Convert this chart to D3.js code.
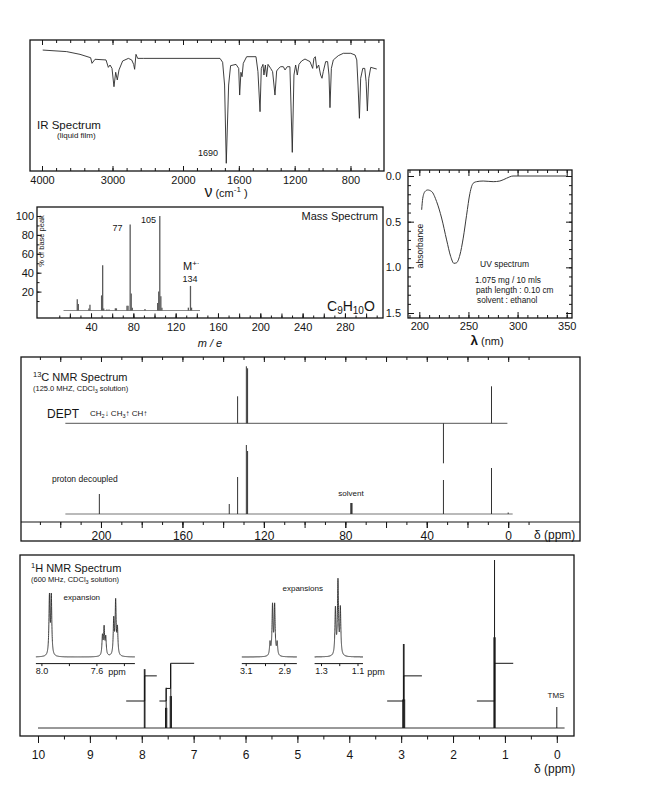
<!DOCTYPE html>
<html><head><meta charset="utf-8">
<script src="https://cdn.jsdelivr.net/npm/d3@7"></script>
<style>body{margin:0;background:#fff}</style>
</head><body>
<script>
// ---------------- DATA ----------------
// IR spectrum (wavenumber cm-1, % transmittance)
const irWavenumber = [3990,3650,3461,3310,3291,3248,3092,3059,3035,3007,2979,2955,2932,2908,2856,2775,2728,2700,2686,2667,2643,2563,1735,1716,1702,1690,1673,1659,1620,1601,1594,1585,1577,1568,1544,1477,1463,1448,1439,1427,1420,1410,1401,1391,1372,1358,1341,1329,1315,1300,1281,1269,1253,1234,1217,1205,1193,1181,1169,1150,1126,1090,1071,1062,1052,1042,1028,1014,1004,995,978,964,954,947,937,923,887,851,798,767,755,746,736,727,712,698,688,679,669,655,612];
const irTransmittance = [93.8,92.6,90.5,87.9,83.6,86.7,86.2,80.5,82.3,79.7,65.6,76.7,70.8,78.5,85.4,87.4,86.2,82.8,79.0,90.5,87.4,87.4,87.4,84.4,66.9,6.7,66.9,81.8,82.8,79.7,59.2,76.7,73.3,83.6,88.7,88.7,77.2,46.4,79.7,82.8,74.6,82.3,73.3,82.8,79.7,77.2,59.2,77.7,79.7,81.0,81.0,78.5,81.0,81.0,15.1,74.6,82.3,74.6,82.8,85.4,86.9,84.9,79.7,87.4,88.7,79.7,82.3,74.6,72.1,77.2,84.9,84.9,74.6,49.5,79.7,86.2,89.5,91.3,91.3,90.0,86.2,66.9,41.3,72.1,79.7,79.7,69.5,46.9,72.1,80.5,79.2];
const irTickLabels = [4000,3000,2000,1600,1200,800];

// Mass spectrum (m/e, % of base peak)
const msMass = [27,28,38,39,50,51,52,55,57,63,64,74,75,77,78,79,91,103,104,105,106,107,132,134,135];
const msIntensity = [12,7,2,6,16,48,2,1,1,2.3,2.3,5,5,91,18,3,1.5,8,20,100,15,3,3,26,3];
const msXTickLabels = [40,80,120,160,200,240,280];
const msYTickLabels = [20,40,60,80,100];

// UV spectrum (nm, absorbance)
const uvWavelength = [202.4,203.5,205.8,208.5,212.6,217.6,222.7,227.8,231.9,235.2,237.9,241.3,244.7,248.1,251.5,254.8,258.3,265,275.2,282,288.7,295.4,349.6];
const uvAbsorbance = [0.37,0.245,0.17,0.153,0.17,0.28,0.46,0.70,0.88,0.956,0.95,0.865,0.68,0.43,0.19,0.08,0.062,0.055,0.062,0.055,0.025,0.0,0.0];
const uvXTickLabels = [200,250,300,350];
const uvYTickLabels = [0.0,0.5,1.0,1.5];

// 13C NMR
const deptShift = [132.9,128.6,128.0,31.8,8.2];
const deptIntensity = [27,57,55,-40,37];
const c13Shift = [200.8,137.0,132.9,128.6,128.0,77.3,77.0,76.7,31.8,8.2,0.0];
const c13Intensity = [20,10,37,69,63,11,11,11,34,46,1.5];
const c13TickLabels = [200,160,120,80,40,0];

// 1H NMR (line positions ppm, relative heights)
const h1Shift = [7.951,7.938,7.542,7.530,7.518,7.452,7.440,7.428,2.969,2.957,2.944,2.932,1.212,1.200,1.188,0.0];
const h1Intensity = [35,35,12,24,12,19,38,19,17,50,50,17,54,100,54,12.5];
const h1TickLabels = [10,9,8,7,6,5,4,3,2,1,0];
// integral traces [ppm, number of H]
const h1Integral1 = [[8.30,0],[7.945,0],[7.945,2],[7.71,2]];
const h1Integral2 = [[7.66,0],[7.53,0],[7.53,1],[7.445,1],[7.445,3],[6.99,3]];
const h1Integral3 = [[3.27,0],[2.95,0],[2.95,2],[2.60,2]];
const h1Integral4 = [[1.54,0],[1.20,0],[1.20,3],[0.84,3]];
// expansions
const exp1Shift = [7.9415,7.928,7.556,7.544,7.532,7.474,7.460,7.447];
const exp1Height = [73,73,24,34,22,44,66,32];
const exp2Shift = [2.974,2.961,2.950,2.937];
const exp2Height = [16,62,62,16];
const exp3Shift = [1.221,1.207,1.194];
const exp3Height = [58,92,58];

// ---------------- DRAWING ----------------
const F = '"Liberation Sans", Arial, Helvetica, sans-serif';
const ink = "#151515";
const svg = d3.select("body").append("svg").attr("width",651).attr("height",793);
svg.append("rect").attr("width",651).attr("height",793).attr("fill","#fff");

function txt(x,y,s,size,anchor){
  return svg.append("text").attr("x",x).attr("y",y).attr("font-size",size)
    .attr("font-family",F).attr("fill",ink).attr("text-anchor",anchor||"start").text(s);
}
function frame(x0,y0,x1,y1){
  svg.append("rect").attr("x",x0).attr("y",y0).attr("width",x1-x0).attr("height",y1-y0)
    .attr("fill","none").attr("stroke",ink).attr("stroke-width",1.3);
}
function tickAxis(axisGen, scale, values, size, tx, ty, fmt, pad, fs){
  const g = svg.append("g").attr("transform",`translate(${tx},${ty})`);
  g.call(axisGen(scale).tickValues(values).tickSize(size).tickPadding(pad==null?3:pad)
    .tickFormat(fmt||(()=> "")));
  g.select(".domain").remove();
  g.attr("font-family",F).attr("font-size",fs||11);
  g.selectAll(".tick line").attr("stroke",ink).attr("stroke-width",1);
  g.selectAll(".tick text").attr("fill",ink);
  return g;
}
function sticks(data, xs, ys, color, w){
  svg.append("g").selectAll("line").data(data).join("line")
    .attr("x1",d=>xs(d[0])).attr("x2",d=>xs(d[0]))
    .attr("y1",ys(0)).attr("y2",d=>ys(d[1]))
    .attr("stroke",color).attr("stroke-width",w);
}
function hline(xs, a, b, y, color, w){
  svg.append("line").attr("x1",xs(a)).attr("x2",xs(b)).attr("y1",y).attr("y2",y)
    .attr("stroke",color).attr("stroke-width",w);
}

// ===== IR =====
const irX = d3.scaleLinear().domain([4000,2000,600]).range([42,183,378.4]);
const irY = d3.scaleLinear().domain([0,100]).range([172,42]);
frame(30,40,384,171);
const irMinor = d3.range(4000,2000,-200).concat(d3.range(2000,599,-100));
tickAxis(d3.axisBottom, irX, irMinor, -3, 0, 171);
tickAxis(d3.axisTop, irX, irMinor, -3, 0, 40);
tickAxis(d3.axisBottom, irX, irTickLabels, -5, 0, 171, d=>d, 5, 11);
tickAxis(d3.axisTop, irX, irTickLabels, -5, 0, 40);
svg.append("path").datum(d3.zip(irWavenumber, irTransmittance))
  .attr("d", d3.line().x(d=>irX(d[0])).y(d=>irY(d[1])))
  .attr("fill","none").attr("stroke","#2a2a2a").attr("stroke-width",0.9).attr("stroke-linejoin","round");
txt(37,129,"IR Spectrum",11.5);
txt(57,138,"(liquid film)",8);
txt(198,156,"1690",9);
{
  const t = svg.append("text").attr("x",226).attr("y",197).attr("font-family",F).attr("fill",ink).attr("text-anchor","middle");
  t.append("tspan").attr("font-size",16).text("ν");
  t.append("tspan").attr("font-size",11).text("  (cm");
  t.append("tspan").attr("font-size",8).attr("dy",-5).text("-1");
  t.append("tspan").attr("font-size",11).attr("dy",5).text(" )");
}

// ===== MASS =====
const msX = d3.scaleLinear().domain([0,300]).range([48.7,366.1]);
const msY = d3.scaleLinear().domain([0,100]).range([310.5,216]);
frame(37,207,383,318);
tickAxis(d3.axisBottom, msX, d3.range(10,320,10), -2.5, 0, 318);
tickAxis(d3.axisBottom, msX, d3.range(20,320,20), -4.5, 0, 318);
tickAxis(d3.axisBottom, msX, msXTickLabels, -4.5, 0, 318, d=>d, 5, 11);
tickAxis(d3.axisLeft, msY, d3.range(10,101,10), -2.5, 37, 0);
tickAxis(d3.axisLeft, msY, msYTickLabels, -4.5, 37, 0, d=>d, 3, 11);
hline(msX, 14, 143, msY(0), "#8a8a8a", 1);
sticks(d3.zip(msMass, msIntensity), msX, msY, "#5a5a5a", 1.3);
txt(378,220,"Mass Spectrum",11,"end");
txt(117.5,231,"77",9,"middle");
txt(148.5,223,"105",9,"middle");
{
  const t = svg.append("text").attr("x",183).attr("y",270).attr("font-family",F).attr("fill",ink);
  t.append("tspan").attr("font-size",11).text("M");
  t.append("tspan").attr("font-size",8).attr("dy",-4).text("+·");
}
txt(190,282,"134",9,"middle");
{
  const t = svg.append("text").attr("x",327).attr("y",311).attr("font-family",F).attr("fill",ink).attr("font-size",14);
  t.append("tspan").text("C");
  t.append("tspan").attr("font-size",10).attr("dy",3).text("9");
  t.append("tspan").attr("dy",-3).text("H");
  t.append("tspan").attr("font-size",10).attr("dy",3).text("10");
  t.append("tspan").attr("dy",-3).text("O");
}
txt(0,0,"% of base peak",7.5,"middle").attr("transform","translate(44,241) rotate(-90)").attr("x",null).attr("y",null);
txt(210,347,"m / e",11,"middle").attr("font-style","italic");

// ===== UV =====
const uvX = d3.scaleLinear().domain([200,350]).range([419.3,566.7]);
const uvY = d3.scaleLinear().domain([0,1.5]).range([176,313]);
frame(408,170,572,318);
const uvXMinor = d3.range(190,351,10);
const uvYMinor = d3.range(0,16,1).map(v=>v/10);
tickAxis(d3.axisBottom, uvX, uvXMinor, -3, 0, 318);
tickAxis(d3.axisTop, uvX, uvXMinor, -3, 0, 170);
tickAxis(d3.axisBottom, uvX, uvXTickLabels, -6, 0, 318, d=>d, 4, 11);
tickAxis(d3.axisTop, uvX, uvXTickLabels, -6, 0, 170);
tickAxis(d3.axisLeft, uvY, uvYMinor, -3, 408, 0);
tickAxis(d3.axisRight, uvY, uvYMinor, -3, 572, 0);
tickAxis(d3.axisLeft, uvY, uvYTickLabels, -6, 408, 0, d3.format(".1f"), 7, 11);
tickAxis(d3.axisRight, uvY, uvYTickLabels, -6, 572, 0);
svg.append("path").datum(d3.zip(uvWavelength, uvAbsorbance))
  .attr("d", d3.line().curve(d3.curveMonotoneX).x(d=>uvX(d[0])).y(d=>uvY(d[1])))
  .attr("fill","none").attr("stroke","#3a3a3a").attr("stroke-width",1);
txt(0,0,"absorbance",8.5,"middle").attr("transform","translate(423,246) rotate(-90)").attr("x",null).attr("y",null);
txt(480,267,"UV spectrum",8.5);
txt(475,283,"1.075 mg / 10 mls",8.3);
txt(476,293,"path length : 0.10 cm",8.3);
txt(477,303,"solvent : ethanol",8.3);
{
  const t = svg.append("text").attr("x",487).attr("y",345).attr("font-family",F).attr("fill",ink).attr("text-anchor","middle");
  t.append("tspan").attr("font-size",13.5).attr("font-weight","bold").text("λ");
  t.append("tspan").attr("font-size",11).text(" (nm)");
}

// ===== 13C NMR =====
const cX = d3.scaleLinear().domain([0,230]).range([508.2,39.9]);
const deptY = d3.scaleLinear().domain([0,100]).range([423.3,323.3]);
const pdY = d3.scaleLinear().domain([0,100]).range([514,414]);
frame(21,357,580,541);
svg.append("line").attr("x1",21).attr("x2",580).attr("y1",522).attr("y2",522).attr("stroke",ink).attr("stroke-width",1.2);
const cMinor = d3.range(-10,231,10);
const cMajor = d3.range(0,221,20);
tickAxis(d3.axisBottom, cX, cMinor, 3, 0, 522);
tickAxis(d3.axisBottom, cX, cMajor, 6, 0, 522);
tickAxis(d3.axisBottom, cX, c13TickLabels, 6, 0, 522, d=>d, 3, 12);
tickAxis(d3.axisTop, cX, cMinor, -3, 0, 357);
tickAxis(d3.axisTop, cX, cMajor, -5, 0, 357);
txt(534,539,"δ (ppm)",12);
hline(cX, 217.5, 0.4, deptY(0), "#777", 1.2);
hline(cX, 217.5, -2.2, pdY(0), "#777", 1.2);
sticks(d3.zip(deptShift, deptIntensity), cX, deptY, "#333", 1);
sticks(d3.zip(c13Shift, c13Intensity), cX, pdY, "#333", 1);
{
  const t = svg.append("text").attr("x",33).attr("y",381).attr("font-family",F).attr("fill",ink);
  t.append("tspan").attr("font-size",7.5).attr("dy",-4).text("13");
  t.append("tspan").attr("font-size",11).attr("dy",4).text("C NMR Spectrum");
}
{
  const t = svg.append("text").attr("x",33).attr("y",391).attr("font-family",F).attr("fill",ink).attr("font-size",7.5);
  t.append("tspan").text("(125.0 MHZ, CDCl");
  t.append("tspan").attr("font-size",5.5).attr("dy",2).text("3");
  t.append("tspan").attr("dy",-2).text(" solution)");
}
txt(47,417.5,"DEPT",12);
{
  const t = svg.append("text").attr("x",90).attr("y",416).attr("font-family",F).attr("fill",ink).attr("font-size",8);
  t.append("tspan").text("CH");
  t.append("tspan").attr("font-size",5.5).attr("dy",2).text("2");
  t.append("tspan").attr("dy",-2).attr("font-weight","bold").text("↓ ");
  t.append("tspan").text(" CH");
  t.append("tspan").attr("font-size",5.5).attr("dy",2).text("3");
  t.append("tspan").attr("dy",-2).attr("font-weight","bold").text("↑ ");
  t.append("tspan").text(" CH");
  t.append("tspan").attr("font-weight","bold").text("↑");
}
txt(52,482,"proton decoupled",8.5);
txt(351,496,"solvent",8,"middle");

// ===== 1H NMR =====
const hX = d3.scaleLinear().domain([0,10]).range([556.8,38]);
const hY = d3.scaleLinear().domain([0,100]).range([728,560]);
const intY = d3.scaleLinear().domain([0,3]).range([701,663.3]);
frame(20,555,574,736);
tickAxis(d3.axisBottom, hX, d3.range(0,10.01,0.5), 3.5, 0, 736);
tickAxis(d3.axisBottom, hX, h1TickLabels, 7, 0, 736, d=>d, 7, 12);
txt(534,773,"δ (ppm)",12);
hline(hX, 10, -0.15, hY(0), "#333", 1);
sticks(d3.zip(h1Shift, h1Intensity), hX, hY, "#1a1a1a", 1);
svg.append("g").selectAll("path").data([h1Integral1,h1Integral2,h1Integral3,h1Integral4]).join("path")
  .attr("d", d3.line().x(d=>hX(d[0])).y(d=>intY(d[1])))
  .attr("fill","none").attr("stroke",ink).attr("stroke-width",1);
txt(556,698,"TMS",8,"middle");
{
  const t = svg.append("text").attr("x",31).attr("y",572).attr("font-family",F).attr("fill",ink);
  t.append("tspan").attr("font-size",7.5).attr("dy",-4).text("1");
  t.append("tspan").attr("font-size",11).attr("dy",4).text("H NMR Spectrum");
}
{
  const t = svg.append("text").attr("x",31).attr("y",582).attr("font-family",F).attr("fill",ink).attr("font-size",7.5);
  t.append("tspan").text("(600 MHz, CDCl");
  t.append("tspan").attr("font-size",5.5).attr("dy",2).text("3");
  t.append("tspan").attr("dy",-2).text(" solution)");
}
txt(63.6,600,"expansion",8);
txt(282.5,591,"expansions",8);

// expansions
const expY = d3.scaleLinear().domain([0,100]).range([657,577]);
function expansion(xs, hi, lo, shifts, heights, gammaPx, ticksV, labelsV, fmt){
  const gamma = Math.abs(xs.invert(xs(0)+gammaPx) - 0);
  const n = 1500;
  const pts = d3.range(n+1).map(i=>{
    const p = hi - (hi-lo)*i/n; let v = 0;
    shifts.forEach((s,k)=>{ const d=p-s; v += heights[k]*gamma*gamma/(d*d+gamma*gamma); });
    return [p,v];
  });
  svg.append("path").datum(pts).attr("d", d3.line().x(d=>xs(d[0])).y(d=>expY(d[1])))
    .attr("fill","none").attr("stroke","#2a2a2a").attr("stroke-width",0.9);
  hline(xs, hi, lo, 663.6, ink, 1);
  tickAxis(d3.axisBottom, xs, ticksV, 2.5, 0, 663.6);
  tickAxis(d3.axisBottom, xs, labelsV, 0, 0, 663.6, fmt, 4, 9);
}
const e1X = d3.scaleLinear().domain([8.0,7.6]).range([41.4,96.4]);
const e2X = d3.scaleLinear().domain([3.1,2.9]).range([245.7,284.3]);
const e3X = d3.scaleLinear().domain([1.3,1.1]).range([321,357.5]);
expansion(e1X, 8.04, 7.32, exp1Shift, exp1Height, 0.6, [8.0,7.8,7.6,7.4], [8.0,7.6], d3.format(".1f"));
expansion(e2X, 3.12, 2.835, exp2Shift, exp2Height, 0.6, [3.1,3.0,2.9], [3.1,2.9], d3.format(".1f"));
expansion(e3X, 1.335, 1.07, exp3Shift, exp3Height, 0.6, [1.3,1.2,1.1], [1.3,1.1], d3.format(".1f"));
txt(117,675,"ppm",9,"middle");
txt(376,675,"ppm",9,"middle");
</script>
</body></html>
